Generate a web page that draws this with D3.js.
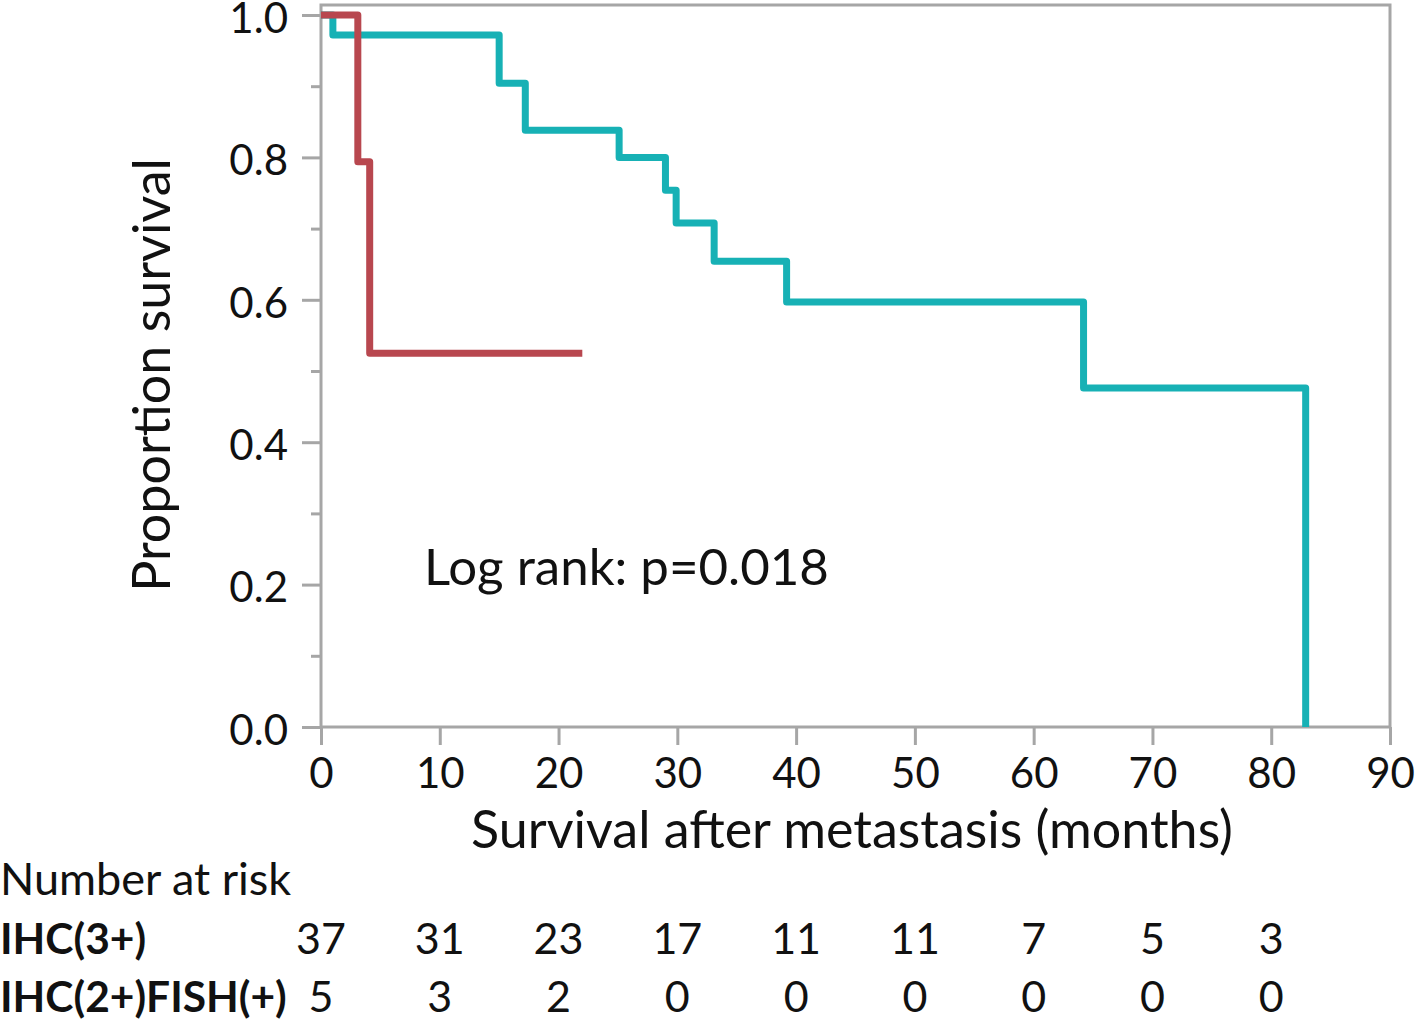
<!DOCTYPE html>
<html>
<head>
<meta charset="utf-8">
<script src="https://cdn.jsdelivr.net/npm/d3@7"></script>
<style>
  html, body { margin: 0; padding: 0; background: #fff; }
  text { font-family: Lato, "Open Sans", sans-serif; fill: #111; }
</style>
</head>
<body>
<svg id="chart" width="1416" height="1020"></svg>
<script>
// Kaplan-Meier step points: [time (months), survival]
const teal_times = [0, 1.0, 15.0, 17.2, 25.1, 29.0, 29.9, 33.1, 39.2, 64.2, 82.9, 82.9];
const teal_surv  = [1.0, 0.972, 0.904, 0.838, 0.80, 0.754, 0.708, 0.654, 0.597, 0.476, 0.0, 0.0];
const red_times  = [0, 3.1, 4.1, 22.0];
const red_surv   = [1.0, 0.794, 0.525, 0.525];

const xTicks = [0, 10, 20, 30, 40, 50, 60, 70, 80, 90];
const yTicks = [0.0, 0.2, 0.4, 0.6, 0.8, 1.0];
const yMinorTicks = [0.1, 0.3, 0.5, 0.7, 0.9];

const riskTimes = [0, 10, 20, 30, 40, 50, 60, 70, 80];
const riskGroups = ["IHC(3+)", "IHC(2+)FISH(+)"];
const riskIHC3 = [37, 31, 23, 17, 11, 11, 7, 5, 3];
const riskFISH = [5, 3, 2, 0, 0, 0, 0, 0, 0];

const svg = d3.select("#chart");
const pLeft = 321, pRight = 1390, pTop = 5, pBottom = 727;

const x = d3.scaleLinear().domain([0, 90]).range([pLeft, pRight]);
const y = d3.scaleLinear().domain([0, 1]).range([pBottom, 15]);

const axisColor = "#a6a6a6";

// frame
svg.append("rect")
  .attr("x", pLeft).attr("y", pTop)
  .attr("width", pRight - pLeft).attr("height", pBottom - pTop)
  .attr("fill", "none").attr("stroke", axisColor).attr("stroke-width", 3);

// x axis
const xAxis = svg.append("g").attr("transform", `translate(0,${pBottom})`)
  .call(d3.axisBottom(x).tickValues(xTicks).tickFormat(d3.format("d")).tickSize(18).tickPadding(13));
xAxis.select(".domain").remove();
xAxis.selectAll("line").attr("stroke", axisColor).attr("stroke-width", 3);
xAxis.selectAll("text").style("font-size", "42px").attr("fill", "#111");

// y axis major
const yAxis = svg.append("g").attr("transform", `translate(${pLeft},0)`)
  .call(d3.axisLeft(y).tickValues(yTicks).tickFormat(d3.format(".1f")).tickSize(19).tickPadding(14));
yAxis.select(".domain").remove();
yAxis.selectAll("line").attr("stroke", axisColor).attr("stroke-width", 3);
yAxis.selectAll("text").style("font-size", "42px").attr("fill", "#111").attr("dy", "0.41em");

// y axis minor
const yMinor = svg.append("g").attr("transform", `translate(${pLeft},0)`)
  .call(d3.axisLeft(y).tickValues(yMinorTicks).tickFormat("").tickSize(10));
yMinor.select(".domain").remove();
yMinor.selectAll("line").attr("stroke", axisColor).attr("stroke-width", 3);

// curves
const line = d3.line().x(d => x(d[0])).y(d => y(d[1])).curve(d3.curveStepAfter);
const tealData = teal_times.map((t, i) => [t, teal_surv[i]]);
const redData = red_times.map((t, i) => [t, red_surv[i]]);

svg.append("path").datum(tealData).attr("d", line)
  .attr("fill", "none").attr("stroke", "#17b1b5").attr("stroke-width", 7)
  .attr("stroke-linejoin", "round");
svg.append("path").datum(redData).attr("d", line)
  .attr("fill", "none").attr("stroke", "#b8474f").attr("stroke-width", 7)
  .attr("stroke-linejoin", "round");

// axis titles
svg.append("text").attr("x", 852).attr("y", 848)
  .attr("text-anchor", "middle").style("font-size", "52px")
  .text("Survival after metastasis (months)");
svg.append("text").attr("transform", `translate(170,375) rotate(-90)`)
  .attr("text-anchor", "middle").style("font-size", "52px")
  .text("Proportion survival");

// annotation
svg.append("text").attr("x", 424).attr("y", 585).style("font-size", "51px")
  .text("Log rank: p=0.018");

// number at risk
svg.append("text").attr("x", 0).attr("y", 895).style("font-size", "45px").text("Number at risk");
const rows = [riskIHC3, riskFISH];
const rowY = [954, 1012];
rows.forEach((vals, r) => {
  svg.append("text").attr("x", 0).attr("y", rowY[r]).style("font-size", "42.5px")
    .style("font-weight", "bold").text(riskGroups[r]);
  svg.append("g").selectAll("text").data(vals).join("text")
    .attr("x", (d, i) => x(riskTimes[i])).attr("y", rowY[r])
    .attr("text-anchor", "middle").style("font-size", "43px").text(d => d);
});
</script>
</body>
</html>
